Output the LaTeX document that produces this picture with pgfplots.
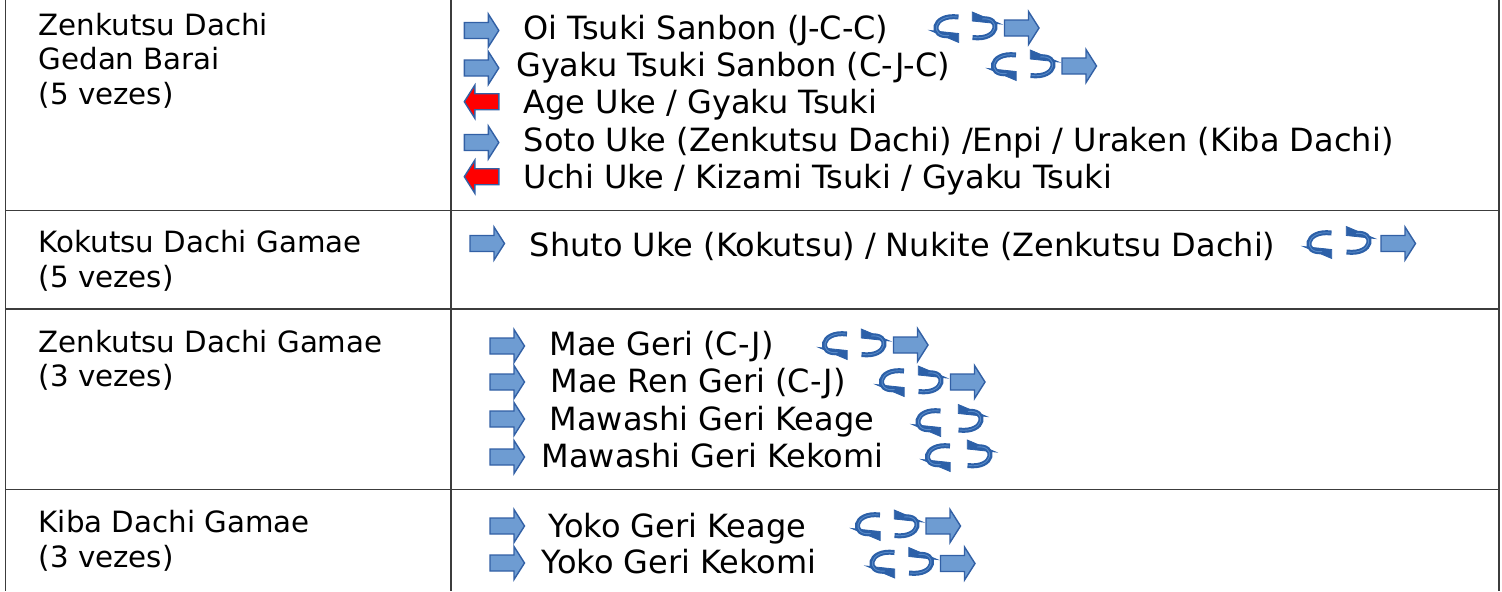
\documentclass[border=0pt]{standalone}
\usepackage{fontspec}
\setmainfont{DejaVu Sans}
\usepackage{pgfplots}
\pgfplotsset{compat=1.18}
\definecolor{afill}{RGB}{110,156,210}
\definecolor{aedge}{RGB}{50,96,165}
\definecolor{curlc}{RGB}{44,96,168}
\definecolor{curlh}{RGB}{88,138,200}
\definecolor{rfill}{RGB}{255,0,0}
\definecolor{gridc}{RGB}{60,60,60}
\newdimen\pxu \pxu=0.28453pt
\pgfdeclareplotmark{blockR}{%
  \pgfpathmoveto{\pgfqpoint{-17\pxu}{-8\pxu}}%
  \pgfpathlineto{\pgfqpoint{7\pxu}{-8\pxu}}%
  \pgfpathlineto{\pgfqpoint{7\pxu}{-16.5\pxu}}%
  \pgfpathlineto{\pgfqpoint{17.5\pxu}{0\pxu}}%
  \pgfpathlineto{\pgfqpoint{7\pxu}{16.5\pxu}}%
  \pgfpathlineto{\pgfqpoint{7\pxu}{8\pxu}}%
  \pgfpathlineto{\pgfqpoint{-17\pxu}{8\pxu}}%
  \pgfpathclose
  \pgfusepathqfillstroke}
\pgfdeclareplotmark{blockL}{%
  \pgftransformrotate{180}%
  \pgfuseplotmark{blockR}}
\pgfdeclareplotmark{curlL}{%
  \pgfscope
  \pgfsetlinewidth{0.8\pxu}%
  \pgfpathmoveto{\pgfqpoint{-14.7\pxu}{-1\pxu}}%
  \pgfpathlineto{\pgfqpoint{13.7\pxu}{-4\pxu}}%
  \pgfpathlineto{\pgfqpoint{13.7\pxu}{-13\pxu}}%
  \pgfpathclose
  \pgfusepathqfillstroke
  \pgfsetlinewidth{5\pxu}%
  \pgfpathmoveto{\pgfqpoint{13.5\pxu}{12.5\pxu}}%
  \pgfpathcurveto{\pgfqpoint{-14\pxu}{16\pxu}}{\pgfqpoint{-16\pxu}{-9\pxu}}{\pgfqpoint{5\pxu}{-6\pxu}}%
  \pgfusepathqstroke
  \pgfsetlinewidth{0.9\pxu}%
  \pgfsetstrokecolor{curlh}%
  \pgfpathmoveto{\pgfqpoint{12.5\pxu}{12.5\pxu}}%
  \pgfpathcurveto{\pgfqpoint{-13\pxu}{15.5\pxu}}{\pgfqpoint{-15\pxu}{-8.5\pxu}}{\pgfqpoint{4\pxu}{-6\pxu}}%
  \pgfusepathqstroke
  \endpgfscope}
\pgfdeclareplotmark{curlR}{%
  \pgftransformrotate{180}%
  \pgfuseplotmark{curlL}}
\newcommand{\R}{\fontsize{0.32cm}{0.38cm}\selectfont}
\newcommand{\Lf}{\fontsize{0.293cm}{0.35cm}\selectfont}
\begin{document}
\begin{tikzpicture}
\begin{axis}[
  width=15.02cm, height=5.91cm, scale only axis,
  xmin=0, xmax=1502, ymin=0, ymax=591, y dir=reverse,
  hide axis, clip=false]
% table rules
\addplot[gridc, line width=0.45pt] coordinates {(5.7,0) (5.7,591)};
\addplot[gridc, line width=0.45pt] coordinates {(451,0) (451,591)};
\addplot[gridc, line width=0.45pt] coordinates {(1499,0) (1499,591)};
\addplot[gridc, line width=0.45pt] coordinates {(5.7,210.5) (1499,210.5)};
\addplot[gridc, line width=0.45pt] coordinates {(5.7,309) (1499,309)};
\addplot[gridc, line width=0.45pt] coordinates {(5.7,489.3) (1499,489.3)};
% blue right arrows
\addplot[only marks, mark=blockR, mark options={fill=afill, draw=aedge, line width=0.4pt}]
  coordinates {(481.3,30.5) (481.3,68) (481.3,142.5) (487,243.5)
  (507,346) (507,382) (507,419) (507,457) (507,526) (507,563)
  (1021.5,28) (1079,66) (1398,243.5) (910.5,345) (967.5,382) (943,526) (957.5,563.5)};
% red left arrows
\addplot[only marks, mark=blockL, mark options={fill=rfill, draw=aedge, line width=0.4pt}]
  coordinates {(481.8,101.7) (481.8,176.7)};
% curls
\addplot[only marks, mark=curlL, mark options={fill=curlc, draw=curlc}]
  coordinates {(945,29.5) (1002.5,67.5) (1318,245.5) (833.5,346.5) (890.5,383.5) (927,423.5) (936.5,458.5) (866.5,527.5) (881,565)};
\addplot[only marks, mark=curlR, mark options={fill=curlc, draw=curlc}]
  coordinates {(986,25) (1044,63) (1360,239.5) (875,342) (932,379) (972,417.5) (981,453) (908,523) (922.5,560.5)};
% left column text
\node[anchor=base west, font=\Lf, inner sep=0pt] at (axis cs:38,35) {Zenkutsu Dachi};
\node[anchor=base west, font=\Lf, inner sep=0pt] at (axis cs:38,69.5) {Gedan Barai};
\node[anchor=base west, font=\Lf, inner sep=0pt] at (axis cs:38,104) {(5 vezes)};
\node[anchor=base west, font=\Lf, inner sep=0pt] at (axis cs:38,252.7) {Kokutsu Dachi Gamae};
\node[anchor=base west, font=\Lf, inner sep=0pt] at (axis cs:38,287.3) {(5 vezes)};
\node[anchor=base west, font=\Lf, inner sep=0pt] at (axis cs:38,352) {Zenkutsu Dachi Gamae};
\node[anchor=base west, font=\Lf, inner sep=0pt] at (axis cs:38,386.5) {(3 vezes)};
\node[anchor=base west, font=\Lf, inner sep=0pt] at (axis cs:38,532.7) {Kiba Dachi Gamae};
\node[anchor=base west, font=\Lf, inner sep=0pt] at (axis cs:38,567.3) {(3 vezes)};
% right column text
\node[anchor=base west, font=\R, inner sep=0pt] at (axis cs:523,39) {Oi Tsuki Sanbon (J-C-C)};
\node[anchor=base west, font=\R, inner sep=0pt] at (axis cs:515.5,76.5) {Gyaku Tsuki Sanbon (C-J-C)};
\node[anchor=base west, font=\R, inner sep=0pt] at (axis cs:523,113.8) {Age Uke / Gyaku Tsuki};
\node[anchor=base west, font=\R, inner sep=0pt] at (axis cs:523,151) {Soto Uke (Zenkutsu Dachi) /Enpi / Uraken (Kiba Dachi)};
\node[anchor=base west, font=\R, inner sep=0pt] at (axis cs:523,188.3) {Uchi Uke / Kizami Tsuki / Gyaku Tsuki};
\node[anchor=base west, font=\R, inner sep=0pt] at (axis cs:529,256) {Shuto Uke (Kokutsu) / Nukite (Zenkutsu Dachi)};
\node[anchor=base west, font=\R, inner sep=0pt] at (axis cs:549,355) {Mae Geri (C-J)};
\node[anchor=base west, font=\R, inner sep=0pt] at (axis cs:550,392.5) {Mae Ren Geri (C-J)};
\node[anchor=base west, font=\R, inner sep=0pt] at (axis cs:549,430) {Mawashi Geri Keage};
\node[anchor=base west, font=\R, inner sep=0pt] at (axis cs:541,467) {Mawashi Geri Kekomi};
\node[anchor=base west, font=\R, inner sep=0pt] at (axis cs:548,537) {Yoko Geri Keage};
\node[anchor=base west, font=\R, inner sep=0pt] at (axis cs:541,573) {Yoko Geri Kekomi};
\end{axis}
\pgfresetboundingbox
\useasboundingbox (current axis.south west) rectangle (current axis.north east);
\end{tikzpicture}
\end{document}
